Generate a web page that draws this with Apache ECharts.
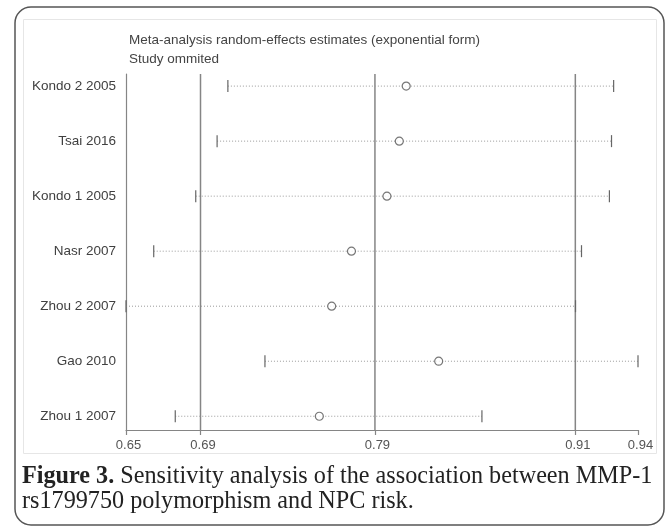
<!DOCTYPE html>
<html><head><meta charset="utf-8">
<script src="https://cdn.jsdelivr.net/npm/echarts@6/dist/echarts.min.js"></script>
<style>html,body{margin:0;padding:0;background:#fff}#c{width:670px;height:529px}</style>
</head><body><div id="c"></div>
<script>
const studies = ['Kondo 2 2005','Tsai 2016','Kondo 1 2005','Nasr 2007','Zhou 2 2007','Gao 2010','Zhou 1 2007'];
const estimate = [0.8087, 0.8048, 0.7978, 0.7777, 0.7665, 0.8271, 0.7595];
const lower    = [0.7077, 0.7016, 0.6895, 0.6657, 0.6500, 0.7287, 0.6779];
const upper    = [0.9262, 0.9250, 0.9238, 0.9080, 0.9046, 0.9400, 0.8516];
const overall  = [0.6922, 0.7910, 0.9045]; // lower CI, estimate, upper CI
const xTickValues = [0.65, 0.6922, 0.7910, 0.9045, 0.94];
const xTickLabels = ['0.65', '0.69', '0.79', '0.91', '0.94'];
const titleLines = ['Meta-analysis random-effects estimates (exponential form)', 'Study ommited'];

const n = studies.length;
const yMin = 0.75, yMax = 7.22;
const rowY = studies.map((s,i)=> n - i);
const ciData = studies.map((s,i)=>[lower[i], upper[i], rowY[i]]);
const ptData = studies.map((s,i)=>[estimate[i], rowY[i]]);
const refData = overall.map(v=>[v]);

const chart = echarts.init(document.getElementById('c'), null, {renderer:'canvas'});
const grey = '#858585';
chart.setOption({
  animation:false,
  backgroundColor:'#fff',
  grid:{left:126, right:32, top:74, bottom:99},
  xAxis:{
    type:'value', min:0.65, max:0.94,
    axisLine:{show:true, lineStyle:{color:grey, width:1.2}},
    axisTick:{show:true, customValues:xTickValues, length:5, lineStyle:{color:grey, width:1.2}},
    axisLabel:{customValues:xTickValues,
      formatter:v=>{ let k=0, d=1e9; xTickValues.forEach((t,i)=>{ if(Math.abs(t-v)<d){d=Math.abs(t-v);k=i;} }); return xTickLabels[k]; },
      color:'#555', fontFamily:'Liberation Sans, Arial', fontSize:13, margin:9, padding:[0,0,0,5]},
    splitLine:{show:false}
  },
  yAxis:{
    type:'value', min:yMin, max:yMax,
    axisLine:{show:true, lineStyle:{color:grey, width:1.2}},
    axisTick:{show:false},
    splitLine:{show:false},
    axisLabel:{customValues:rowY, formatter:v=>studies[n - Math.round(v)], color:'#404040', fontFamily:'Liberation Sans, Arial', fontSize:13.5, margin:10}
  },
  series:[
    {
      type:'custom',
      data:refData,
      encode:{x:0},
      z:1,
      renderItem:function(params, api){
        const t = api.coord([api.value(0), yMax]);
        const b = api.coord([api.value(0), yMin]);
        return {type:'line', shape:{x1:t[0], y1:t[1], x2:b[0], y2:b[1]}, style:{stroke:grey, lineWidth:1.5}};
      }
    },
    {
      type:'custom',
      data:ciData,
      encode:{x:[0,1], y:2},
      z:2,
      renderItem:function(params, api){
        const a = api.coord([api.value(0), api.value(2)]);
        const b = api.coord([api.value(1), api.value(2)]);
        const h = 6;
        const st = {stroke:'#9a9a9a', lineWidth:1, lineDash:[1,2]};
        const cap = {stroke:'#666', lineWidth:1.2};
        return {type:'group', children:[
          {type:'line', shape:{x1:a[0], y1:a[1], x2:b[0], y2:b[1]}, style:st},
          {type:'line', shape:{x1:a[0], y1:a[1]-h, x2:a[0], y2:a[1]+h}, style:cap},
          {type:'line', shape:{x1:b[0], y1:b[1]-h, x2:b[0], y2:b[1]+h}, style:cap}
        ]};
      }
    },
    {
      type:'scatter',
      data:ptData,
      symbol:'circle', symbolSize:8,
      z:3,
      itemStyle:{color:'#fff', borderColor:'#555', borderWidth:1.2}
    }
  ],
  graphic:[
    {type:'rect', shape:{x:15, y:7, width:649, height:518, r:16}, style:{fill:'none', stroke:'#555', lineWidth:1.5}, z:-1},
    {type:'rect', shape:{x:23.5, y:19.5, width:633, height:434}, style:{fill:'none', stroke:'#e6e6e6', lineWidth:1}, z:-1},
    {type:'text', left:129, top:33, style:{text:titleLines[0], fill:'#444', font:'13.5px "Liberation Sans", Arial'}},
    {type:'text', left:129, top:52, style:{text:titleLines[1], fill:'#444', font:'13.5px "Liberation Sans", Arial'}},
    {type:'text', left:22, top:464, style:{
      text:'{b|Figure 3.} Sensitivity analysis of the association between MMP-1\nrs1799750 polymorphism and NPC risk.',
      rich:{b:{fontWeight:'bold', fontFamily:'Liberation Serif', fontSize:24.2, fill:'#222', lineHeight:25}},
      fontFamily:'Liberation Serif', fontSize:24.2, fill:'#222', lineHeight:25
    }}
  ]
});
</script></body></html>
